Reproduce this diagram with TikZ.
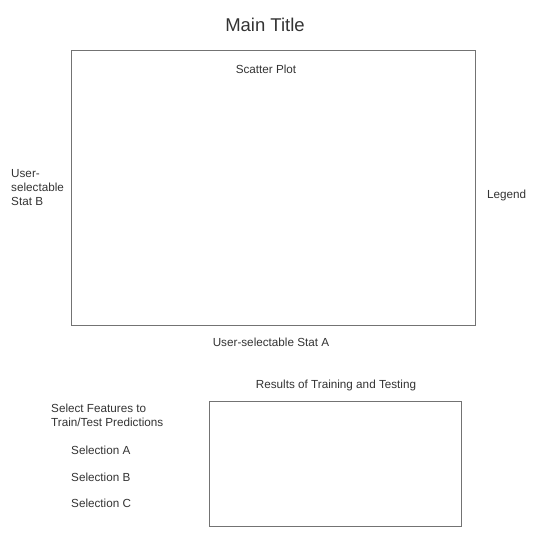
\documentclass[tikz,border=0pt]{standalone}
\usepackage{fontspec}
\setmainfont{Liberation Sans}
\usepackage{tikz}

\begin{document}
\begin{tikzpicture}[x=1pt,y=-1pt,
  txt/.style={text=black!80,font=\fontsize{11.7}{14}\selectfont,inner sep=0pt},
  panel/.style={draw=black!55,line width=0.9pt,inner sep=0pt}]
\useasboundingbox (0,0) rectangle (541,540);
\draw (265,24.5) node (title) [txt,font=\fontsize{18.5}{20}\selectfont] {Main Title};
\draw (71,50)    node (plot) [panel,anchor=north west,minimum width=404pt,minimum height=275pt] {};
\draw (266,69)   node (scat) [txt] {Scatter Plot};
\draw (11,188)   node (statb) [txt,anchor=west,align=left] {User-\\selectable\\Stat B};
\draw (487,195)  node (leg) [txt,anchor=west] {Legend};
\draw (271,342)  node (stata) [txt] {User-selectable Stat A};
\draw (336,385)  node (res) [txt] {Results of Training and Testing};
\draw (209,401)  node (out) [panel,anchor=north west,minimum width=252pt,minimum height=125pt] {};
\draw (51,415.5) node (feat) [txt,anchor=west,align=left] {Select Features to\\Train/Test Predictions};
\draw (71,450)   node (sela) [txt,anchor=west] {Selection A};
\draw (71,477)   node (selb) [txt,anchor=west] {Selection B};
\draw (71,503)   node (selc) [txt,anchor=west] {Selection C};

\end{tikzpicture}
\end{document}
